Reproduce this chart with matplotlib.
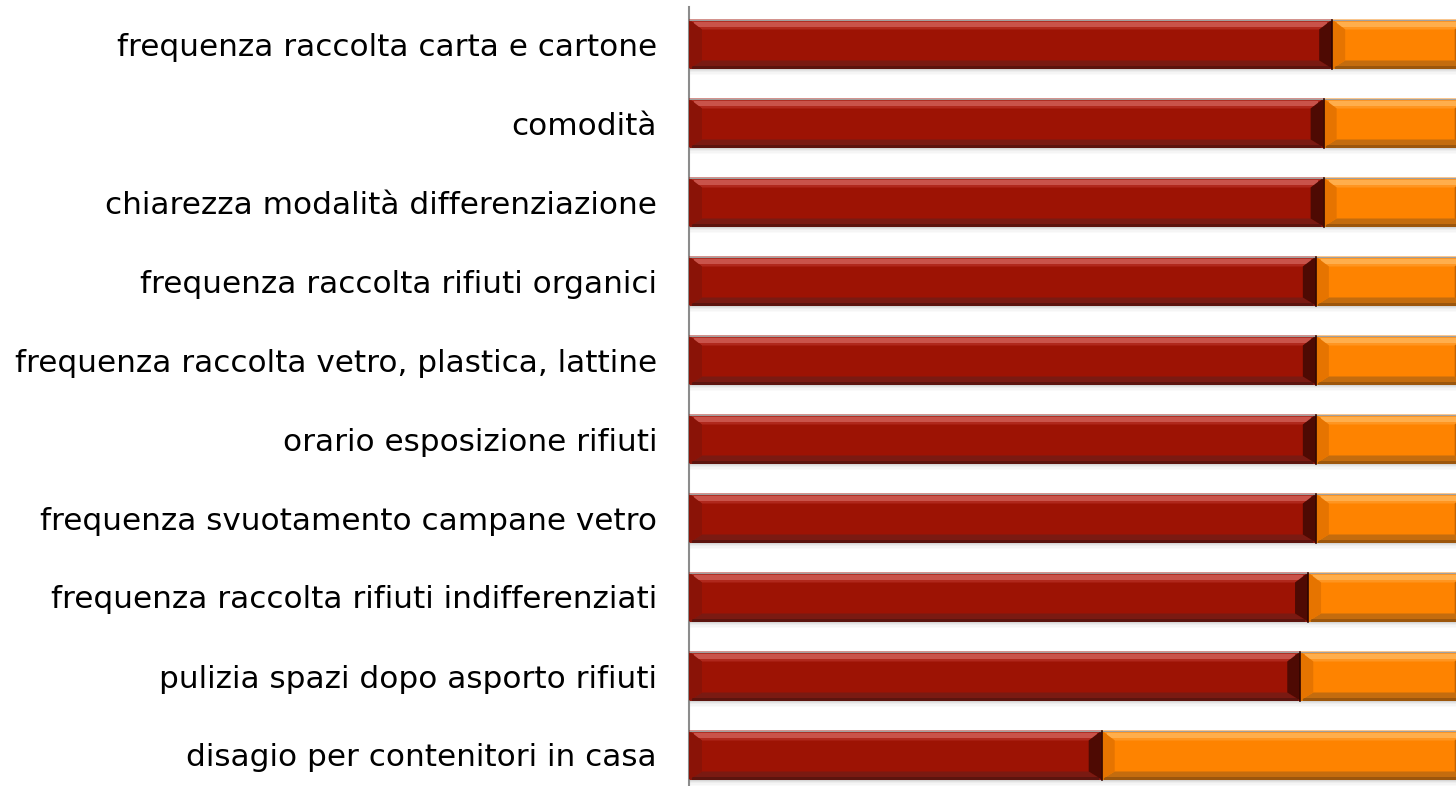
import matplotlib.pyplot as plt
from matplotlib.patches import Polygon, Rectangle

categorie = [
    "frequenza raccolta carta e cartone",
    "comodità",
    "chiarezza modalità differenziazione",
    "frequenza raccolta rifiuti organici",
    "frequenza raccolta vetro, plastica, lattine",
    "orario esposizione rifiuti",
    "frequenza svuotamento campane vetro",
    "frequenza raccolta rifiuti indifferenziati",
    "pulizia spazi dopo asporto rifiuti",
    "disagio per contenitori in casa",
]
soddisfatti = [82.6, 81.5, 81.5, 80.5, 80.5, 80.5, 80.5, 79.5, 78.5, 53.0]
non_soddisfatti = [100 - v for v in soddisfatti]

# colori: base, smusso alto, riflesso, smusso basso (chiaro/scuro), lati
rosso = dict(base="#9d1304", top="#b0281c", hi="#c9534a", bot="#7a1a12",
             bot2="#5c140e", left="#8a1307", right="#4e0a03")
arancio = dict(base="#fe8300", top="#ff9520", hi="#ffae4c", bot="#c46c0e",
               bot2="#9c560c", left="#e67400", right="#c86400")

W, H, DPI = 1456, 786, 100
fig = plt.figure(figsize=(W / DPI, H / DPI), dpi=DPI)
ax_left = 689 / W
ax_top = 779 / H
ax = fig.add_axes([ax_left, 0, 1 - ax_left, ax_top])

n = len(categorie)
ypos = list(range(n - 1, -1, -1))
xmax = 98.5
ax.set_xlim(0, xmax)
y_top = (n - 1) + (44 - 7) / 79
y_bot = -(786 - 755) / 79
ax.set_ylim(y_bot, y_top)

px_x = xmax / (W - 689)
px_y = (y_top - y_bot) / (779)
bar_h = 49 * px_y


def barra(x0, x1, yc, c):
    yb, yt = yc - bar_h / 2, yc + bar_h / 2
    bx, bt, bb = 13 * px_x, 10 * px_y, 8 * px_y
    # ombra sotto la barra
    for k, a in enumerate([0.32, 0.22, 0.14, 0.08, 0.04]):
        ax.add_patch(Rectangle((x0, yb - (k + 1) * 1.3 * px_y), x1 - x0, 1.3 * px_y,
                               color="#808080", alpha=a, lw=0, zorder=1))
    ax.add_patch(Rectangle((x0, yb), x1 - x0, bar_h, color=c["base"], lw=0, zorder=2))
    ax.add_patch(Polygon([(x0, yt), (x1, yt), (x1 - bx, yt - bt), (x0 + bx, yt - bt)],
                         closed=True, color=c["top"], lw=0, zorder=3))
    ax.add_patch(Rectangle((x0 + 0.4 * bx, yt - 0.7 * bt), x1 - x0 - 0.8 * bx, 0.45 * bt,
                           color=c["hi"], lw=0, zorder=3))
    ax.add_patch(Polygon([(x0, yb), (x1, yb), (x1 - bx, yb + bb), (x0 + bx, yb + bb)],
                         closed=True, color=c["bot"], lw=0, zorder=3))
    ax.add_patch(Rectangle((x0 + 0.2 * bx, yb), x1 - x0 - 0.4 * bx, 0.35 * bb,
                           color=c["bot2"], lw=0, zorder=3))
    ax.add_patch(Polygon([(x0, yb), (x0, yt), (x0 + bx, yt - bt), (x0 + bx, yb + bb)],
                         closed=True, color=c["left"], lw=0, zorder=3))
    ax.add_patch(Polygon([(x1, yb), (x1, yt), (x1 - bx, yt - bt), (x1 - bx, yb + bb)],
                         closed=True, color=c["right"], lw=0, zorder=3))
    ax.plot([x0, x1], [yt, yt], color="#a0a0a0", lw=0.8, zorder=4, solid_capstyle="butt")


for y, s, ns in zip(ypos, soddisfatti, non_soddisfatti):
    barra(0, s, y, rosso)
    barra(s, s + ns, y, arancio)
    ax.plot([s, s], [y - bar_h / 2, y + bar_h / 2], color="#2e0400", lw=1.2, zorder=5)

ax.set_yticks(ypos)
ax.set_yticklabels(categorie, fontsize=22.4, color="black", family="DejaVu Sans")
ax.tick_params(axis="y", length=0, pad=23)
ax.set_xticks([])
for s in ["top", "right", "bottom"]:
    ax.spines[s].set_visible(False)
ax.spines["left"].set_color("#8c8c8c")
ax.spines["left"].set_linewidth(1.5)

fig.savefig("out.png", dpi=DPI)
